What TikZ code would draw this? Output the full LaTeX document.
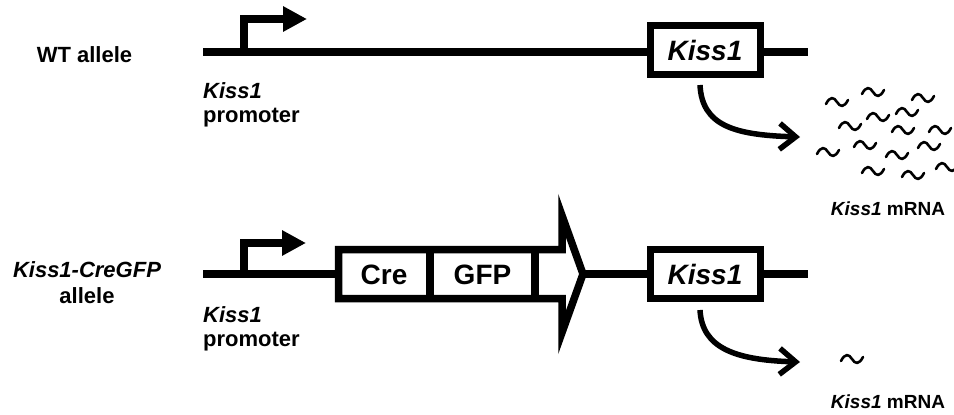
\documentclass[tikz,border=0pt]{standalone}
\usepackage{fontspec}
\setmainfont{Liberation Sans}
\usetikzlibrary{arrows.meta}
\begin{document}
\begin{tikzpicture}[x=1pt,y=-1pt,
  dna/.style={line width=7.5pt},
  promo/.style={line width=7.5pt, line join=miter, -{Triangle[length=24pt,width=24pt]}},
  genebox/.style={draw, line width=7pt, fill=white, minimum width=110pt, minimum height=49pt,
    inner sep=0pt, font=\fontsize{28}{30}\selectfont\bfseries\itshape},
  partlbl/.style={inner sep=0pt, font=\fontsize{28}{30}\selectfont\bfseries},
  lbl/.style={inner sep=0pt, font=\fontsize{22}{26}\selectfont\bfseries},
  mlbl/.style={inner sep=0pt, font=\fontsize{19}{22}\selectfont\bfseries},
  expr/.style={line width=5.5pt, -{Straight Barb[length=16pt,width=26pt]}},
  rna/.style={line width=2.6pt, line cap=round, line join=round},
  rnawave/.pic={\draw[rna] (-11,2) .. controls (-7,-6) and (-3,-5) .. (0,0)
                 .. controls (3,5) and (7,6) .. (11,-2);}
]
\useasboundingbox (0,0) rectangle (954,415);

% ---------------- wild-type allele ----------------
\node[lbl, anchor=base] (wt) at (84.5,62) {WT allele};

\coordinate (aL) at (203,52);
\coordinate (aR) at (808,52);
\draw[dna] (aL) -- (aR);

% promoter
\coordinate (pA) at (244,52);
\coordinate (pAend) at (307,19);
\draw[promo] (pA) |- (pAend);
\node[lbl, anchor=base west] (pAk) at (203,98) {\itshape Kiss1};
\node[lbl, anchor=base west] (pAp) at (203,122) {promoter};

% Kiss1 gene
\node[genebox] (kA) at (705,50) {Kiss1};

% transcripts
\coordinate (tA) at (800,137);
\draw[expr] ([xshift=-5pt,yshift=-7pt]kA.south) .. controls +(2,41) and +(-65,-2) .. (tA);

\foreach \p in {(837,102),(873,92),(923,98),(878,117),(907,112),(850,126),
                (903,130),(940,130),(828,152),(865,145),(897,155),(929,146),
                (873,171),(913,175),(947,167)}
  \pic at \p {rnawave};

\node[mlbl, anchor=base] (mA) at (888,215) {\itshape Kiss1\upshape{} mRNA};

% ---------------- knock-in allele ----------------
\node[lbl, anchor=base] (kiA) at (87,277) {\itshape Kiss1-CreGFP};
\node[lbl, anchor=base] (kiB) at (87,303) {allele};

\coordinate (bL) at (203,274);
\coordinate (bR) at (808,274);
\draw[dna] (bL) -- (bR);

% promoter
\coordinate (pB) at (244,274);
\coordinate (pBend) at (306,243);
\draw[promo] (pB) |- (pBend);
\node[lbl, anchor=base west] (pBk) at (203,322) {\itshape Kiss1};
\node[lbl, anchor=base west] (pBp) at (203,346) {promoter};

% Cre-GFP cassette drawn as a block arrow
\draw[dna, fill=white, line join=miter]
  (338.5,249.5) -- (562,249.5) -- (562,215.5) -- (583,274) -- (562,332.5)
  -- (562,298.5) -- (338.5,298.5) -- cycle;
\node[partlbl] (cre) at (384,275) {Cre};
\node[partlbl] (gfp) at (482.5,275) {GFP};
\coordinate (d1t) at (430,249.5); \coordinate (d1b) at (430,298.5);
\coordinate (d2t) at (535,249.5); \coordinate (d2b) at (535,298.5);
\draw[dna] (d1t) -- (d1b);
\draw[dna] (d2t) -- (d2b);

% Kiss1 gene
\node[genebox] (kB) at (705,274) {Kiss1};

% reduced transcript
\coordinate (tB) at (800,362);
\draw[expr] ([xshift=-5pt,yshift=-8pt]kB.south) .. controls +(2,38) and +(-65,-2) .. (tB);
\pic at (852,359) {rnawave};

\node[mlbl, anchor=base] (mB) at (888,408) {\itshape Kiss1\upshape{} mRNA};
\end{tikzpicture}
\end{document}
